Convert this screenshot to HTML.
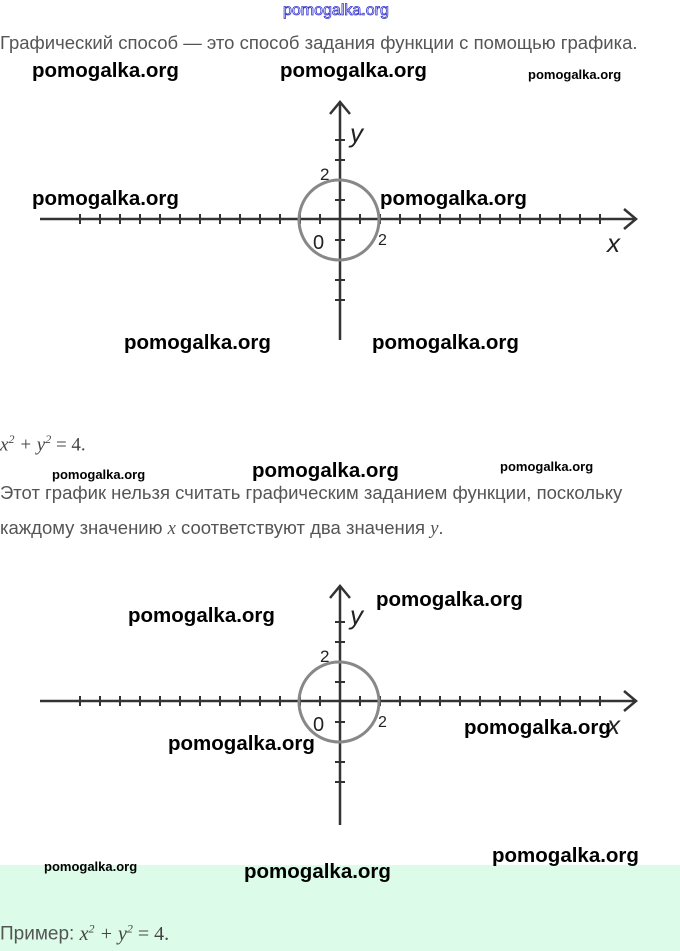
<!DOCTYPE html>
<html><head><meta charset="utf-8"><style>
body{margin:0;width:680px;height:951px;background:#fff;position:relative;overflow:hidden;font-family:"Liberation Sans",sans-serif}
.t{position:absolute;left:0;font-size:18.5px;color:#555;white-space:nowrap}
.w{position:absolute;font-family:"Liberation Sans",sans-serif;color:#000;white-space:nowrap;font-weight:bold}
.b{font-size:20.5px}.s{font-size:13px}
.m{font-family:"Liberation Serif",serif;font-style:italic}
</style></head><body>
<div style="position:absolute;left:0;top:865px;width:680px;height:86px;background:#dcfbe8"></div>
<div class="w" style="left:283px;top:2px;font-size:16px;font-weight:normal;color:#fff;-webkit-text-stroke:0.8px #33c">pomogalka.org</div>
<div class="t" style="top:32px">Графический способ — это способ задания функции с помощью графика.</div>
<div class="w b" style="left:32px;top:59px">pomogalka.org</div>
<div class="w b" style="left:280px;top:59px">pomogalka.org</div>
<div class="w s" style="left:528px;top:67px">pomogalka.org</div>
<svg width="680" height="951" style="position:absolute;left:0;top:0">
<g stroke="#333" stroke-width="2.5" fill="none">
<line x1="40" y1="219" x2="636" y2="219"/><polyline points="624,209 636,219 624,229"/>
<line x1="340" y1="340" x2="340" y2="102"/><polyline points="330,114 340,102 350,114"/>
<line x1="40" y1="701" x2="636" y2="701"/><polyline points="624,691 636,701 624,711"/>
<line x1="340" y1="825" x2="340" y2="586"/><polyline points="330,598 340,586 350,598"/>
</g>
<g stroke="#333" stroke-width="2">
<path d="M80 214v10M100 214v10M120 214v10M140 214v10M160 214v10M180 214v10M200 214v10M220 214v10M240 214v10M260 214v10M280 214v10M300 214v10M320 214v10M360 214v10M380 214v10M400 214v10M420 214v10M440 214v10M460 214v10M480 214v10M500 214v10M520 214v10M540 214v10M560 214v10M580 214v10M600 214v10
M335 140h10M335 160h10M335 180h10M335 200h10M335 240h10M335 260h10M335 280h10M335 300h10"/>
<path transform="translate(0,482)" d="M80 214v10M100 214v10M120 214v10M140 214v10M160 214v10M180 214v10M200 214v10M220 214v10M240 214v10M260 214v10M280 214v10M300 214v10M320 214v10M360 214v10M380 214v10M400 214v10M420 214v10M440 214v10M460 214v10M480 214v10M500 214v10M520 214v10M540 214v10M560 214v10M580 214v10M600 214v10
M335 140h10M335 160h10M335 180h10M335 200h10M335 240h10M335 260h10M335 280h10M335 300h10"/>
</g>
<circle cx="339" cy="220" r="40" stroke="#888" stroke-width="3" fill="none"/>
<circle cx="339" cy="702" r="40" stroke="#888" stroke-width="3" fill="none"/>
<g font-family="Liberation Sans,sans-serif" fill="#222">
<text x="350" y="142" font-size="26" font-style="italic">y</text><text x="320" y="180" font-size="17">2</text>
<text x="313" y="249" font-size="20">0</text><text x="378" y="245" font-size="16">2</text>
<text x="607" y="252" font-size="26" font-style="italic">x</text>
<text x="350" y="624" font-size="26" font-style="italic">y</text><text x="320" y="662" font-size="17">2</text>
<text x="313" y="731" font-size="20">0</text><text x="378" y="727" font-size="16">2</text>
<text x="607" y="734" font-size="26" font-style="italic">x</text>
</g>
</svg>
<div class="w b" style="left:32px;top:187px">pomogalka.org</div>
<div class="w b" style="left:380px;top:187px">pomogalka.org</div>
<div class="w b" style="left:124px;top:331px">pomogalka.org</div>
<div class="w b" style="left:372px;top:331px">pomogalka.org</div>
<div class="t m" style="top:432px;color:#444;font-size:19px">x<sup style="font-size:12px">2</sup> + y<sup style="font-size:12px">2</sup> <span style="font-style:normal">= 4.</span></div>
<div class="w s" style="left:52px;top:467px">pomogalka.org</div>
<div class="w b" style="left:252px;top:459px">pomogalka.org</div>
<div class="w s" style="left:500px;top:459px">pomogalka.org</div>
<div class="t" style="top:482px">Этот график нельзя считать графическим заданием функции, поскольку</div>
<div class="t" style="top:517px">каждому значению <span class="m">x</span> соответствуют два значения <span class="m">y</span>.</div>
<div class="w b" style="left:128px;top:604px">pomogalka.org</div>
<div class="w b" style="left:376px;top:588px">pomogalka.org</div>
<div class="w b" style="left:464px;top:716px">pomogalka.org</div>
<div class="w b" style="left:168px;top:732px">pomogalka.org</div>
<div class="w s" style="left:44px;top:859px">pomogalka.org</div>
<div class="w b" style="left:244px;top:860px">pomogalka.org</div>
<div class="w b" style="left:492px;top:844px">pomogalka.org</div>
<div class="t" style="top:921px;font-size:19px">Пример: <span class="m" style="color:#444;font-size:20px">x<sup style="font-size:12px">2</sup> + y<sup style="font-size:12px">2</sup> <span style="font-style:normal">= 4.</span></span></div>
</body></html>
